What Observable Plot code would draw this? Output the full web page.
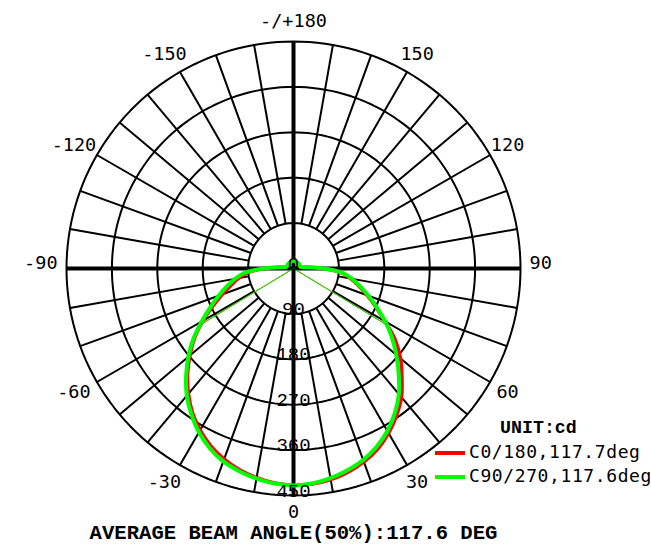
<!DOCTYPE html>
<html>
<head>
<meta charset="utf-8">
<script src="https://cdn.jsdelivr.net/npm/d3@7"></script>
<script src="https://cdn.jsdelivr.net/npm/@observablehq/plot@0.6"></script>
<style>
  body { margin: 0; background: #fff; }
  #chart svg { display: block; background: #fff; }
</style>
</head>
<body>
<div id="chart"></div>
<script>
// ---------- data ----------
const angles = [-180,-175,-170,-165,-160,-155,-150,-145,-140,-135,-130,-125,-120,-115,-110,-105,-100,-95,-90,-85,-80,-75,-70,-65,-60,-55,-50,-45,-40,-35,-30,-25,-20,-15,-10,-5,0,5,10,15,20,25,30,35,40,45,50,55,60,65,70,75,80,85,90,95,100,105,110,115,120,125,130,135,140,145,150,155,160,165,170,175,180];
const c0Values = [13,13,13,13,13,13,13,13,13,13,13,13,13,13,13,13,14,28,56,90,110,128,150,176,207,239,268,297,324,349,370,388,402,413,421,427,430,429,425,418,408,395,377,356,333,304,277,246,210,180,155,134,115,95,58,28,14,13,13,13,13,13,13,13,13,13,13,13,13,13,13,13,13];
const c90Values = [14,14,14,14,14,14,14,14,14,14,14,14,14,14,14,14,16,30,60,97,118,137,158,182,210,242,272,301,329,353,375,393,407,416,423,428,430,428,422,414,404,390,372,350,325,295,266,238,210,182,158,137,118,97,60,30,16,14,14,14,14,14,14,14,14,14,14,14,14,14,14,14,14];
const seriesNames = ["C0/180,117.7deg", "C90/270,117.6deg"];
const seriesColors = ["#ff0000", "#00ff00"];
const beamAngles = [117.7, 117.6];
const peakValues = [430, 430];
const ringValues = [90, 180, 270, 360, 450];
const ringLabels = ["0", "90", "180", "270", "360", "450"];
const ringLabelValues = [0, 90, 180, 270, 360, 450];
const angleTickValues = [180, 150, 120, 90, 60, 30, 0, -30, -60, -90, -120, -150];
const angleTickLabels = ["-/+180", "150", "120", "90", "60", "30", "0", "-30", "-60", "-90", "-120", "-150"];
const unitLabel = "UNIT:cd";
const title = "AVERAGE BEAM ANGLE(50%):117.6 DEG";

// ---------- helpers ----------
const rad = d => d * Math.PI / 180;
const px = (r, a) => r * Math.sin(rad(a));
const py = (r, a) => -r * Math.cos(rad(a));
const RMAX = ringValues[ringValues.length - 1];
const RLABEL = 490;

const ringPts = ringValues.flatMap(r => d3.range(0, 361, 2).map(a => ({ring: r, x: px(r, a), y: py(r, a)})));
const spokes = d3.range(-170, 181, 10).filter(a => a % 90 !== 0)
  .map(a => ({x1: px(ringValues[0], a), y1: py(ringValues[0], a), x2: px(RMAX, a), y2: py(RMAX, a)}));
const axesLines = [
  {x1: -RMAX, y1: 0, x2: RMAX, y2: 0},
  {x1: 0, y1: -RMAX, x2: 0, y2: RMAX}
];
const curves = [c0Values, c90Values].map((vals, i) =>
  angles.map((a, j) => ({series: seriesNames[i], x: px(vals[j], a), y: py(vals[j], a)})));
const beamLines = beamAngles.map((b, i) => [-b / 2, b / 2].map(a => ({
  series: seriesNames[i], x1: 0, y1: 0, x2: px(peakValues[i] / 2, a), y2: py(peakValues[i] / 2, a)
})));
const tickData = angleTickValues.map((a, i) => ({
  label: angleTickLabels[i], x: px(RLABEL, a), y: py(RLABEL, a),
  neg: angleTickLabels[i].startsWith("-") && a !== 180,
  side: Math.abs(a) === 90,
  bottom: a === 0
}));
const ringLabelData = ringLabelValues.map((r, i) => ({label: ringLabels[i], x: 0, y: -r}));

const monoSans = "'DejaVu Sans Mono', monospace";
const courier = "'Liberation Mono', 'Courier New', monospace";
const tickStyle = {x: "x", y: "y", text: "label", fontSize: 18.5, fontFamily: monoSans, fill: "#000"};

const plot = Plot.plot({
  width: 651,
  height: 553,
  marginLeft: 66,
  marginRight: 131,
  marginTop: 41,
  marginBottom: 58,
  x: {domain: [-RMAX, RMAX], axis: null},
  y: {domain: [-RMAX, RMAX], axis: null},
  style: {background: "#fff"},
  marks: [
    Plot.line(ringPts, {x: "x", y: "y", z: "ring", stroke: "#000", strokeWidth: 2}),
    Plot.link(spokes, {x1: "x1", y1: "y1", x2: "x2", y2: "y2", stroke: "#000", strokeWidth: 2}),
    Plot.link(axesLines, {x1: "x1", y1: "y1", x2: "x2", y2: "y2", stroke: "#000", strokeWidth: 4}),
    Plot.line(curves[0], {x: "x", y: "y", stroke: seriesColors[0], strokeWidth: 3.5, curve: "catmull-rom"}),
    Plot.line(curves[1], {x: "x", y: "y", stroke: seriesColors[1], strokeWidth: 4, curve: "catmull-rom"}),
    Plot.link(beamLines[0], {x1: "x1", y1: "y1", x2: "x2", y2: "y2", stroke: seriesColors[0], strokeWidth: 1}),
    Plot.link(beamLines[1], {x1: "x1", y1: "y1", x2: "x2", y2: "y2", stroke: seriesColors[1], strokeWidth: 1}),
    Plot.text(ringLabelData, {x: "x", y: "y", text: "label", lineAnchor: "bottom", dy: 1, fontSize: 19, fontFamily: courier, fill: "#000"}),
    Plot.text(tickData.filter(d => !d.neg && !d.side && !d.bottom), {...tickStyle}),
    Plot.text(tickData.filter(d => d.bottom), {...tickStyle, dy: -3.5}),
    Plot.text(tickData.filter(d => d.neg && !d.side), {...tickStyle, dx: -5.5}),
    Plot.text(tickData.filter(d => !d.neg && d.side), {...tickStyle, dy: -5}),
    Plot.text(tickData.filter(d => d.neg && d.side), {...tickStyle, dy: -5, dx: -5.5}),
    Plot.text([title], {frameAnchor: "bottom", dy: 43, text: d => d, fontSize: 20.6, fontWeight: "bold", fontFamily: courier, fill: "#000"})
  ]
});

// legend (drawn into the same svg)
const svg = d3.select(plot);
const lg = svg.append("g").attr("text-anchor", "start");
lg.append("text").attr("x", 500).attr("y", 427).attr("dy", "0.35em").attr("text-anchor", "start")
  .attr("font-family", courier).attr("font-weight", "bold").attr("font-size", 18.3).attr("fill", "#000").text(unitLabel);
seriesNames.forEach((name, i) => {
  const y = 453 + i * 24;
  lg.append("line").attr("x1", 435).attr("x2", 465).attr("y1", y).attr("y2", y)
    .attr("stroke", seriesColors[i]).attr("stroke-width", 4);
  lg.append("text").attr("x", 469).attr("y", y - 1).attr("dy", "0.35em").attr("text-anchor", "start")
    .attr("font-family", monoSans).attr("font-size", 18).attr("letter-spacing", 0.6).attr("fill", "#000").text(name);
});

document.getElementById("chart").append(plot);
</script>
</body>
</html>
